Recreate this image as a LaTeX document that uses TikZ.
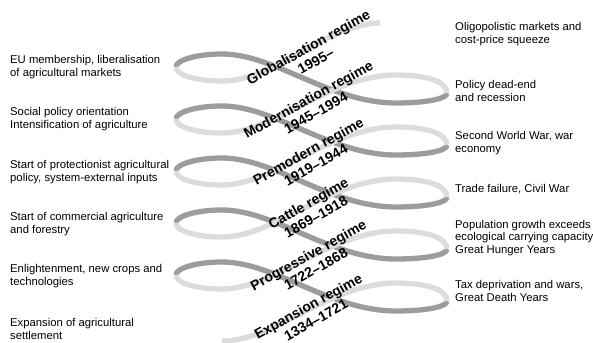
\documentclass[tikz,border=0pt]{standalone}
\usepackage{fontspec}
\setmainfont{Liberation Sans}
\definecolor{ribdark}{HTML}{9C9C9C}
\definecolor{riblight}{HTML}{DCDCDC}
\tikzset{
  dk/.style={draw=ribdark,line width=5.3pt},
  lt/.style={draw=riblight,line width=5.3pt},
  side/.style={anchor=west,align=left,inner sep=0pt,font=\fontsize{11.3}{12.4}\selectfont},
  regime/.style={align=center,inner sep=0pt,rotate=29,font=\fontsize{14}{15.5}\selectfont\bfseries}
}
\begin{document}
\begin{tikzpicture}[x=1pt,y=-1pt]
\useasboundingbox (0,0) rectangle (593,342);
\begin{scope}
\clip (0,0) rectangle (593,342);
% back (dark) parts of the ribbon
\foreach \L in {67,119,171,223,275}{
  \draw[dk] (176,\L) .. controls (176,\L-7) and (197,\L-13) .. (222,\L-13)
     .. controls (275,\L-13) and (330,\L+36) .. (396,\L+36)
     .. controls (425,\L+36) and (447,\L+32) .. (447,\L+26);
}
% front (light) parts of the ribbon
\draw[lt] (380,23) .. controls (326,24) and (275,81) .. (222,81);
\foreach \L in {67,119,171,223,275}{
  \draw[lt] (222,\L+14) .. controls (196,\L+14) and (176,\L+8) .. (176,\L);
  \draw[lt] (447,\L+26) .. controls (447,\L+14) and (425,\L+8) .. (396,\L+8)
     .. controls (330,\L+8) and (275,\L+66) .. (222,\L+66);
}
\end{scope}
% regime labels
\node[regime] (r1) at (312,54)  {Globalisation regime\\1995–};
\node[regime] (r2) at (312,106) {Modernisation regime\\1945–1994};
\node[regime] (r3) at (312,158) {Premodern regime\\1919–1944};
\node[regime] (r4) at (312,210) {Cattle regime\\1869–1918};
\node[regime] (r5) at (312,262) {Progressive regime\\1722–1868};
\node[regime] (r6) at (312,313) {Expansion regime\\1334–1721};
% left texts
\node[side] (l1) at (10,67)  {EU membership, liberalisation\\of agricultural markets};
\node[side] (l2) at (10,119) {Social policy orientation\\Intensification of agriculture};
\node[side] (l3) at (10,172) {Start of protectionist agricultural\\policy, system-external inputs};
\node[side] (l4) at (10,224) {Start of commercial agriculture\\and forestry};
\node[side] (l5) at (10,276) {Enlightenment, new crops and\\technologies};
\node[side] (l6) at (10,329) {Expansion of agricultural\\settlement};
% right texts
\node[side] (q1) at (455,34)  {Oligopolistic markets and\\cost-price squeeze};
\node[side] (q2) at (455,91)  {Policy dead-end\\and recession};
\node[side] (q3) at (455,143) {Second World War, war\\economy};
\node[side] (q4) at (455,189) {Trade failure, Civil War};
\node[side] (q5) at (455,238) {Population growth exceeds\\ecological carrying capacity\\Great Hunger Years};
\node[side] (q6) at (455,291) {Tax deprivation and wars,\\Great Death Years};
\end{tikzpicture}
\end{document}
